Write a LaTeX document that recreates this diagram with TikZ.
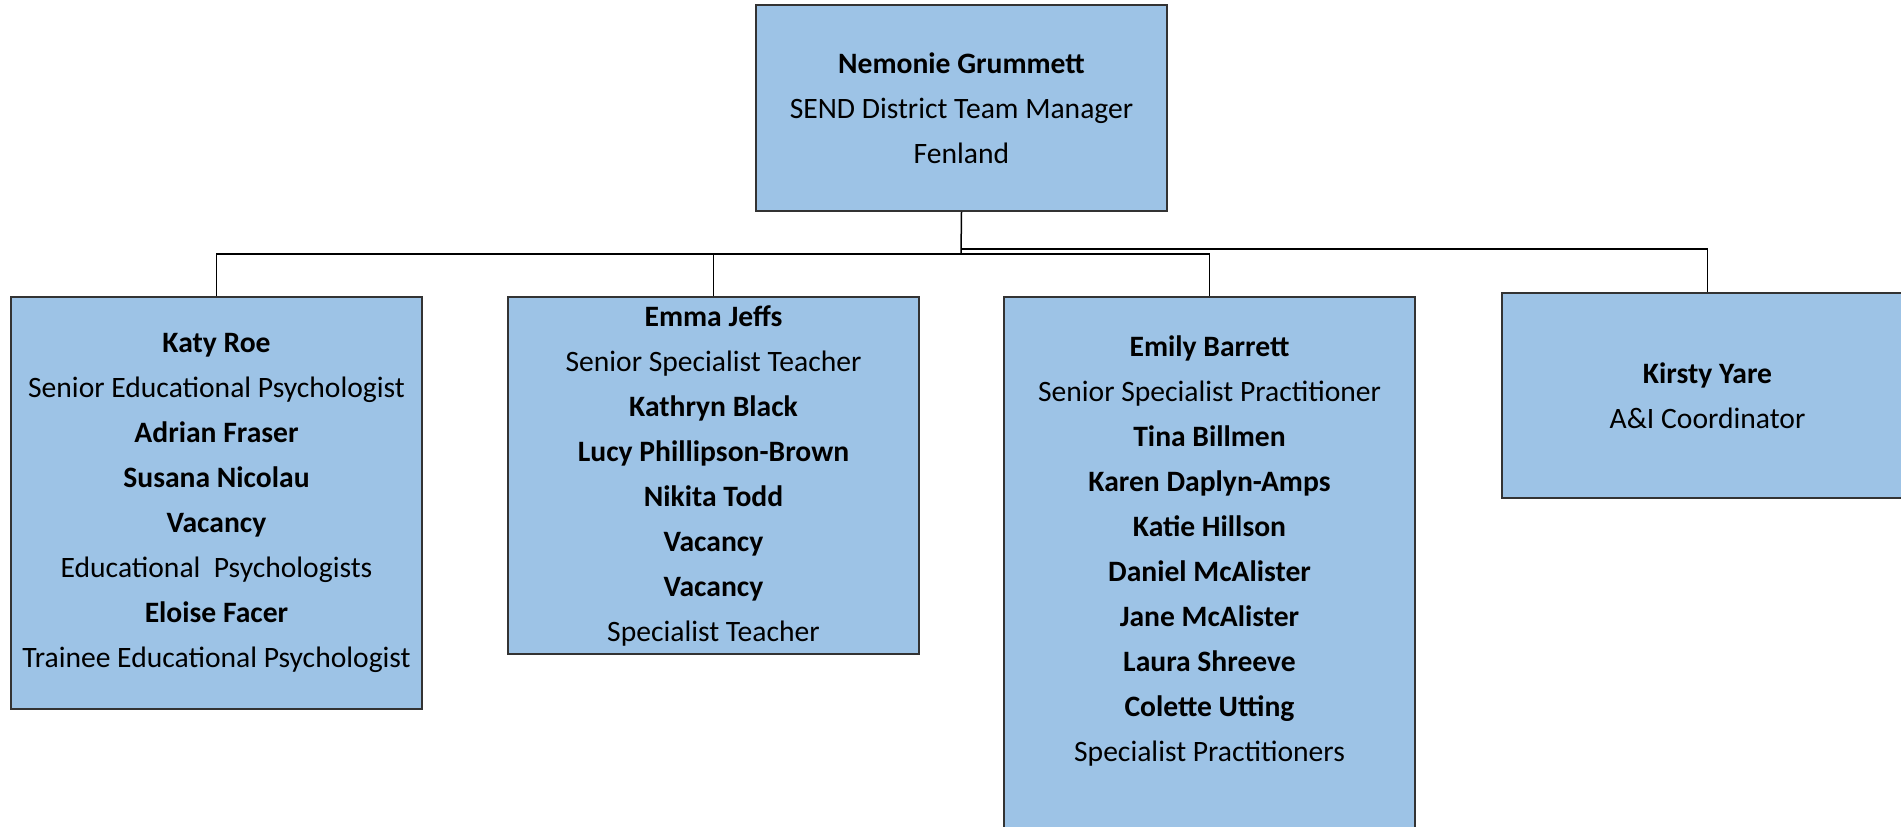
\documentclass[tikz,border=0pt]{standalone}
\usepackage{fontspec}
\setmainfont{Carlito}
\definecolor{boxblue}{HTML}{9DC3E6}
\begin{document}
\begin{tikzpicture}[x=0.5pt,y=0.5pt,
  staffbox/.style={draw=black!80,fill=boxblue,line width=0.75pt,
    minimum width=205.5pt,inner sep=0pt,align=center,
    font=\fontsize{14.8}{22.5}\selectfont},
  stafftext/.style={align=center,inner sep=0pt,font=\fontsize{14.8}{22.5}\selectfont},
  link/.style={black,line width=0.75pt}]
\useasboundingbox (0,0) rectangle (1901,-826);
\clip (0,0) rectangle (1901,-826);

% manager
\node[staffbox,minimum height=103pt] (boss) at (961.5,-108)
  {\textbf{Nemonie Grummett}\\SEND District Team Manager\\Fenland};

% teams
\node[staffbox,minimum height=206pt] (ep) at (216.5,-503)
  {\textbf{Katy Roe}\\Senior Educational Psychologist\\\textbf{Adrian Fraser}\\
   \textbf{Susana Nicolau}\\\textbf{Vacancy}\\Educational\ \ Psychologists\\
   \textbf{Eloise Facer}\\Trainee Educational Psychologist};
\node[staffbox,minimum height=178.5pt] (st) at (713.5,-475.5)
  {\textbf{Emma Jeffs}\\Senior Specialist Teacher\\\textbf{Kathryn Black}\\
   \textbf{Lucy Phillipson-Brown}\\\textbf{Nikita Todd}\\\textbf{Vacancy}\\
   \textbf{Vacancy}\\Specialist Teacher};
\node[staffbox,minimum height=300pt,anchor=north] (sp) at (1209.5,-296) {};
\node[stafftext] (sptext) at (1209.5,-550.5)
  {\textbf{Emily Barrett}\\Senior Specialist Practitioner\\\textbf{Tina Billmen}\\
   \textbf{Karen Daplyn-Amps}\\\textbf{Katie Hillson}\\\textbf{Daniel McAlister}\\
   \textbf{Jane McAlister}\\\textbf{Laura Shreeve}\\\textbf{Colette Utting}\\
   Specialist Practitioners};
\node[staffbox,minimum height=102.5pt] (ai) at (1707.5,-395.5)
  {\textbf{Kirsty Yare}\\A\&I Coordinator};

% connectors
\coordinate (bus) at (961,-254);
\coordinate (busr) at (961,-249);
\draw[link] (boss.south) -- (bus);
\draw[link] (ep.north) |- (bus);
\draw[link] (st.north) |- (bus);
\draw[link] (sp.north) |- (bus);
\draw[link] (ai.north) |- (busr);
\end{tikzpicture}
\end{document}
